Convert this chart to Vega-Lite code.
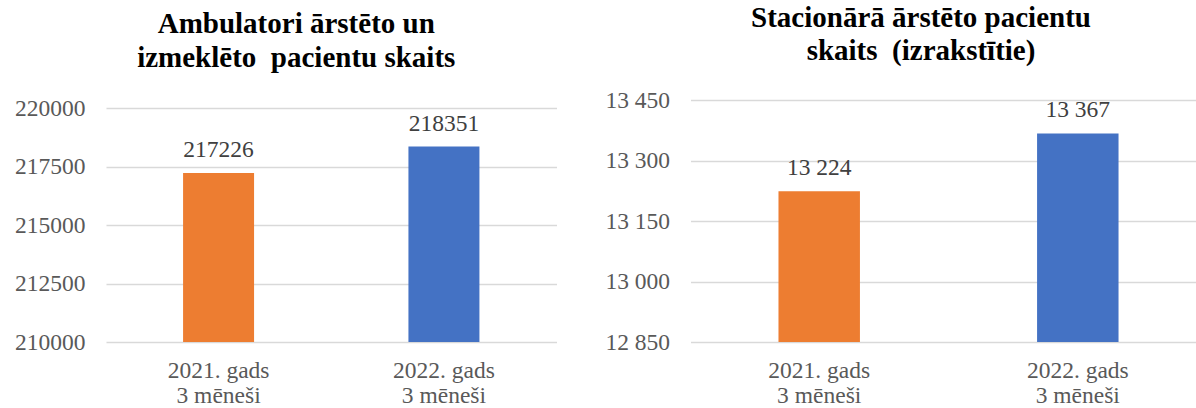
{
  "$schema": "https://vega.github.io/schema/vega-lite/v6.json",
  "autosize": {"type": "pad"},
  "padding": {"left": 14, "top": 4, "right": 0, "bottom": 0},
  "background": "white",
  "bounds": "flush",
  "spacing": 133.5,
  "config": {
    "locale": {"number": {"decimal": ",", "thousands": " ", "grouping": [3], "currency": ["", ""]}},
    "font": "Liberation Serif, Times New Roman, serif",
    "view": {"stroke": null},
    "axis": {
      "labelFont": "Liberation Serif, Times New Roman, serif",
      "labelFontSize": 23.5,
      "labelColor": "#595959",
      "domain": false,
      "ticks": false,
      "tickSize": 0,
      "gridColor": "#d9d9d9",
      "gridWidth": 1.3,
      "title": null
    },
    "axisX": {"labelPadding": 16, "labelLineHeight": 25, "labelAngle": 0, "grid": false},
    "axisY": {"labelPadding": 21, "grid": true}
  },
  "hconcat": [
    {
      "width": 450.5,
      "height": 242,
      "title": {
        "text": ["Ambulatori ārstēto un", "izmeklēto \u00a0pacientu skaits"],
        "fontSize": 29,
        "fontWeight": "bold",
        "font": "Liberation Serif, Times New Roman, serif",
        "color": "#000000",
        "lineHeight": 34,
        "anchor": "middle",
        "dx": -35,
        "offset": 23
      },
      "data": {"values": [
        {"period": "2021. gads 3 mēneši", "value": 217226},
        {"period": "2022. gads 3 mēneši", "value": 218351}
      ]},
      "encoding": {
        "x": {
          "field": "period", "type": "nominal", "sort": null,
          "scale": {"paddingInner": 0.685, "paddingOuter": 0.342, "align": 0.5},
          "axis": {"labelExpr": "[slice(datum.value, 0, 10), slice(datum.value, 11)]"}
        },
        "y": {
          "field": "value", "type": "quantitative",
          "scale": {"domain": [210000, 220000], "range": [242, 8], "zero": false, "nice": false},
          "axis": {"values": [210000, 212500, 215000, 217500, 220000], "format": "d"}
        }
      },
      "layer": [
        {
          "mark": {"type": "bar"},
          "encoding": {
            "y2": {"datum": 210000},
            "color": {"field": "period", "type": "nominal", "scale": {"range": ["#ED7D31", "#4472C4"]}, "legend": null}
          }
        },
        {
          "mark": {"type": "text", "dy": -16, "baseline": "alphabetic", "fontSize": 23.5, "color": "#404040", "font": "Liberation Serif, Times New Roman, serif"},
          "encoding": {"text": {"field": "value", "type": "quantitative", "format": "d"}}
        }
      ]
    },
    {
      "width": 507,
      "height": 242,
      "title": {
        "text": ["Stacionārā ārstēto pacientu", "skaits \u00a0(izrakstītie)"],
        "fontSize": 29,
        "fontWeight": "bold",
        "font": "Liberation Serif, Times New Roman, serif",
        "color": "#000000",
        "lineHeight": 33,
        "anchor": "middle",
        "dx": -23,
        "offset": 22
      },
      "data": {"values": [
        {"period": "2021. gads 3 mēneši", "value": 13224},
        {"period": "2022. gads 3 mēneši", "value": 13367}
      ]},
      "encoding": {
        "x": {
          "field": "period", "type": "nominal", "sort": null,
          "scale": {"paddingInner": 0.685, "paddingOuter": 0.3228, "align": 0.527},
          "axis": {"labelExpr": "[slice(datum.value, 0, 10), slice(datum.value, 11)]"}
        },
        "y": {
          "field": "value", "type": "quantitative",
          "scale": {"domain": [12850, 13450], "range": [242, 0], "zero": false, "nice": false},
          "axis": {"values": [12850, 13000, 13150, 13300, 13450], "format": ",d"}
        }
      },
      "layer": [
        {
          "mark": {"type": "bar"},
          "encoding": {
            "y2": {"datum": 12850},
            "color": {"field": "period", "type": "nominal", "scale": {"range": ["#ED7D31", "#4472C4"]}, "legend": null}
          }
        },
        {
          "mark": {"type": "text", "dy": -16, "baseline": "alphabetic", "fontSize": 23.5, "color": "#404040", "font": "Liberation Serif, Times New Roman, serif"},
          "encoding": {"text": {"field": "value", "type": "quantitative", "format": ",d"}}
        }
      ]
    }
  ]
}
